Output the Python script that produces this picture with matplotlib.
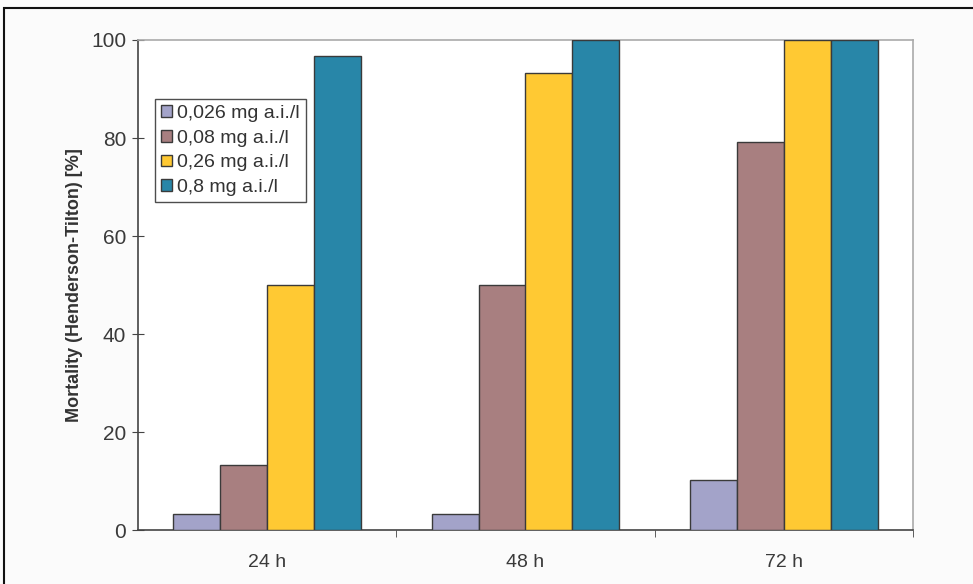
import numpy as np
import matplotlib.pyplot as plt
from matplotlib.patches import Rectangle

# Mortality by exposure time and concentration
times = ['24 h', '48 h', '72 h']
series_labels = ['0,026 mg a.i./l', '0,08 mg a.i./l', '0,26 mg a.i./l', '0,8 mg a.i./l']
mortality = [
    [3.3, 3.3, 10.3],     # 0,026 mg
    [13.3, 50.0, 79.2],   # 0,08 mg
    [50.0, 93.3, 100.0],  # 0,26 mg
    [96.7, 100.0, 100.0], # 0,8 mg
]
colors = ['#a3a3c9', '#a87f80', '#ffc933', '#2886a8']

plt.rcParams['font.family'] = ['Liberation Sans', 'DejaVu Sans']

fig = plt.figure(figsize=(9.73, 5.84), dpi=100, facecolor='#fbfbfb')
ax = fig.add_axes([138 / 973, 1 - 530 / 584, 775 / 973, 490 / 584])
ax.set_facecolor('white')

# outer frame (only top/left are inside the image)
fig.patches.append(Rectangle((4 / 973, -0.1), 1.2, 1 - 8 / 584 + 0.1,
                             transform=fig.transFigure, fill=False,
                             edgecolor='#111111', linewidth=1.5))

x = np.arange(len(times))
w = 1 / 5.5
for i, (vals, lab, c) in enumerate(zip(mortality, series_labels, colors)):
    ax.bar(x + (i - 1.5) * w, vals, width=w, color=c, edgecolor='#3a3a3a',
           linewidth=1.0, label=lab, zorder=3)

ax.set_xlim(-0.5, 2.5)
ax.set_ylim(0, 100)
ax.set_yticks(range(0, 101, 20))
ax.set_xticks(x)
ax.set_xticklabels(times)
ax.set_xticks([0.5, 1.5, 2.5], minor=True)
ax.tick_params(axis='x', which='major', length=0, pad=17, labelsize=14, labelcolor='#3a3a3a')
ax.tick_params(axis='x', which='minor', length=5, direction='out', color='#444444')
ax.tick_params(axis='y', length=9, direction='inout', color='#444444', pad=4,
               labelsize=15, labelcolor='#3a3a3a')

for s in ['top', 'right']:
    ax.spines[s].set_color('#aaaaaa')
    ax.spines[s].set_linewidth(1.2)
for s in ['left', 'bottom']:
    ax.spines[s].set_color('#444444')
    ax.spines[s].set_linewidth(1.2)

ax.set_ylabel('Mortality (Henderson-Tilton) [%]', fontsize=13, fontweight='bold',
              color='#333333', labelpad=6)

leg = ax.legend(loc='upper left', bbox_to_anchor=(17 / 775, 1 - 59 / 490),
                frameon=True, fancybox=False, fontsize=14, handlelength=0.55,
                handleheight=0.55, handletextpad=0.3, borderpad=0.3,
                labelspacing=0.4, borderaxespad=0)
leg.get_frame().set_edgecolor('#222222')
leg.get_frame().set_linewidth(1.0)
for t in leg.get_texts():
    t.set_color('#333333')

fig.savefig('out.png', dpi=100, facecolor=fig.get_facecolor())
